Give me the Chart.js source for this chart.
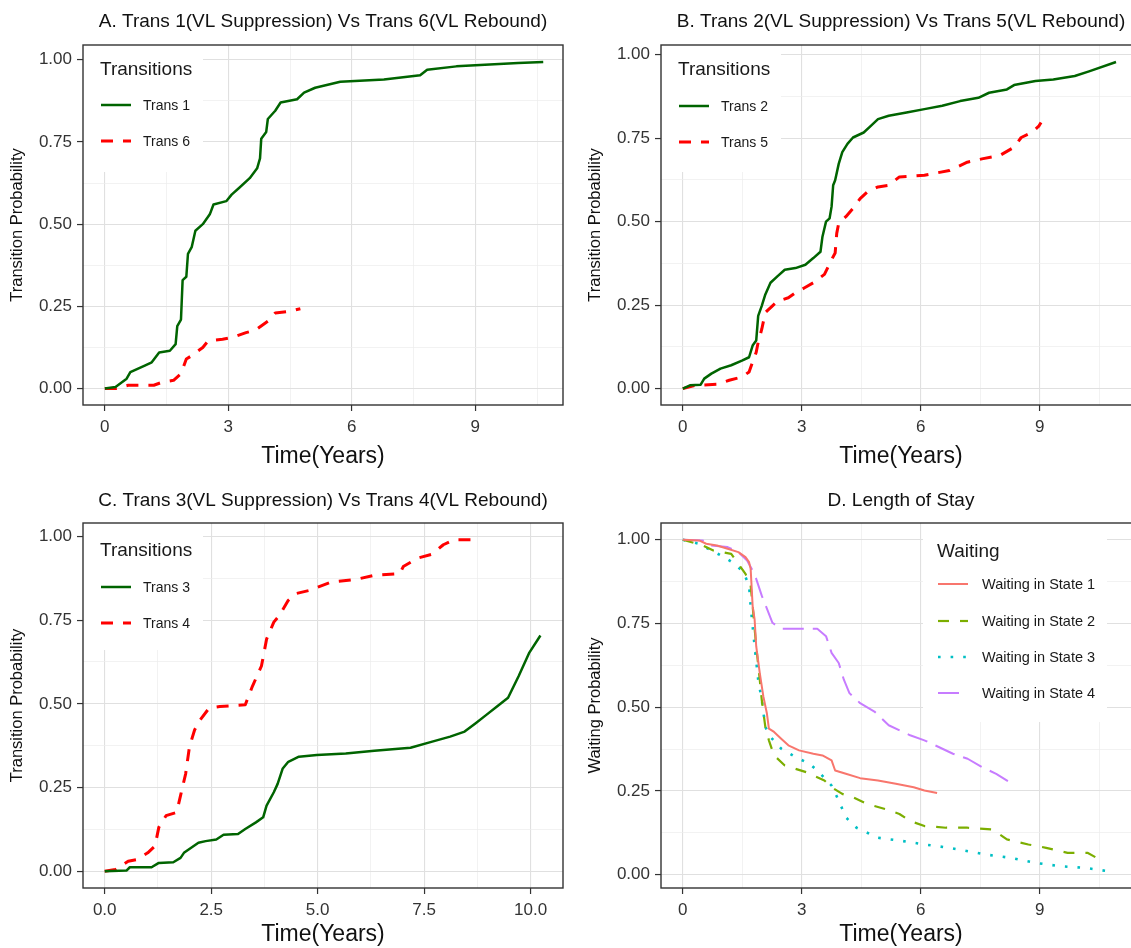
<!DOCTYPE html>
<html>
<head>
<meta charset="utf-8">
<script src="https://cdn.jsdelivr.net/npm/chart.js@4.4.1/dist/chart.umd.min.js"></script>
<style>
html,body{margin:0;padding:0;background:#fff;overflow:hidden;width:1131px;height:948px;position:relative;}
canvas{position:absolute;}
</style>
</head>
<body>
<canvas id="cA" width="578" height="478" style="left:0;top:0"></canvas>
<canvas id="cB" width="578" height="478" style="left:578px;top:0"></canvas>
<canvas id="cC" width="578" height="478" style="left:0;top:478px"></canvas>
<canvas id="cD" width="578" height="478" style="left:578px;top:478px"></canvas>
<script>
// ---------- tick values / labels ----------
const yTicks = [0, 0.25, 0.5, 0.75, 1];
const yTickLabels = ['0.00', '0.25', '0.50', '0.75', '1.00'];
const yMinor = [0.125, 0.375, 0.625, 0.875];
const xTicksYears = [0, 3, 6, 9];
const xTickLabelsYears = ['0', '3', '6', '9'];
const xMinorYears = [1.5, 4.5, 7.5, 10.5];
const xTicksC = [0, 2.5, 5, 7.5, 10];
const xTickLabelsC = ['0.0', '2.5', '5.0', '7.5', '10.0'];
const xMinorC = [1.25, 3.75, 6.25, 8.75];

// ---------- titles / labels ----------
const titleA = 'A. Trans 1(VL Suppression) Vs Trans 6(VL Rebound)';
const titleB = 'B. Trans 2(VL Suppression) Vs Trans 5(VL Rebound)';
const titleC = 'C. Trans 3(VL Suppression) Vs Trans 4(VL Rebound)';
const titleD = 'D. Length of Stay';
const xAxisLabel = 'Time(Years)';
const yAxisLabelTrans = 'Transition Probability';
const yAxisLabelWait = 'Waiting Probability';

// ---------- Panel A ----------
const trans1Time = [0, 0.26, 0.53, 0.62, 0.97, 1.14, 1.32, 1.58, 1.72, 1.76, 1.85, 1.89, 1.98, 2.02, 2.11, 2.2, 2.38, 2.55, 2.64, 2.95, 3.08, 3.26, 3.52, 3.7, 3.77, 3.8, 3.92, 3.96, 4.14, 4.27, 4.67, 4.84, 5.11, 5.72, 6.78, 7.66, 7.83, 8.54, 10.04, 10.65];
const trans1Prob = [0, 0.005, 0.03, 0.05, 0.07, 0.08, 0.11, 0.115, 0.135, 0.19, 0.21, 0.33, 0.34, 0.41, 0.43, 0.48, 0.5, 0.53, 0.56, 0.57, 0.59, 0.61, 0.64, 0.67, 0.7, 0.76, 0.78, 0.82, 0.845, 0.87, 0.88, 0.9, 0.915, 0.933, 0.94, 0.953, 0.97, 0.98, 0.99, 0.993];
const trans6Time = [0, 0.26, 0.57, 1.19, 1.41, 1.67, 1.85, 1.98, 2.11, 2.38, 2.51, 2.86, 3.08, 3.43, 3.66, 3.96, 4.14, 4.49, 4.75];
const trans6Prob = [0, 0, 0.01, 0.01, 0.02, 0.025, 0.045, 0.09, 0.1, 0.125, 0.145, 0.15, 0.155, 0.17, 0.178, 0.205, 0.23, 0.235, 0.243];

// ---------- Panel B ----------
const trans2Time = [0, 0.18, 0.45, 0.54, 0.72, 0.95, 1.22, 1.49, 1.67, 1.76, 1.85, 1.9, 1.99, 2.08, 2.21, 2.39, 2.57, 2.84, 3.09, 3.29, 3.47, 3.52, 3.61, 3.7, 3.75, 3.79, 3.84, 3.93, 4.02, 4.15, 4.29, 4.56, 4.74, 4.92, 5.19, 5.64, 6.09, 6.54, 6.99, 7.45, 7.72, 8.17, 8.35, 8.89, 9.34, 9.88, 10.24, 10.92];
const trans2Prob = [0, 0.01, 0.012, 0.03, 0.045, 0.06, 0.07, 0.084, 0.094, 0.129, 0.144, 0.218, 0.248, 0.282, 0.317, 0.337, 0.356, 0.361, 0.371, 0.391, 0.41, 0.455, 0.5, 0.51, 0.545, 0.609, 0.624, 0.673, 0.708, 0.733, 0.752, 0.767, 0.787, 0.807, 0.817, 0.827, 0.837, 0.847, 0.861, 0.871, 0.886, 0.896, 0.909, 0.921, 0.926, 0.936, 0.95, 0.978];
const trans5Time = [0, 0.32, 0.86, 1.17, 1.49, 1.67, 1.76, 1.85, 1.9, 1.99, 2.08, 2.26, 2.39, 2.66, 2.84, 3.07, 3.29, 3.57, 3.75, 3.84, 3.88, 3.93, 4.11, 4.29, 4.47, 4.65, 4.92, 5.19, 5.46, 6.09, 6.72, 7.17, 7.54, 7.99, 8.35, 8.53, 8.8, 8.98, 9.03];
const trans5Prob = [0, 0.01, 0.013, 0.025, 0.035, 0.05, 0.08, 0.109, 0.139, 0.178, 0.228, 0.248, 0.262, 0.272, 0.287, 0.302, 0.317, 0.342, 0.386, 0.406, 0.465, 0.495, 0.515, 0.54, 0.569, 0.589, 0.604, 0.609, 0.634, 0.639, 0.653, 0.678, 0.688, 0.698, 0.723, 0.752, 0.767, 0.787, 0.797];

// ---------- Panel C ----------
const trans3Time = [0, 0.51, 0.59, 1.1, 1.27, 1.61, 1.78, 1.86, 2.03, 2.2, 2.37, 2.62, 2.79, 3.13, 3.3, 3.55, 3.72, 3.8, 3.97, 4.06, 4.18, 4.31, 4.56, 4.98, 5.66, 6.33, 7.18, 7.69, 8.11, 8.45, 8.71, 8.96, 9.21, 9.47, 9.72, 9.97, 10.23];
const trans3Prob = [0, 0.002, 0.012, 0.012, 0.025, 0.027, 0.04, 0.055, 0.07, 0.085, 0.09, 0.095, 0.109, 0.111, 0.126, 0.146, 0.161, 0.196, 0.236, 0.261, 0.307, 0.327, 0.342, 0.347, 0.352, 0.36, 0.369, 0.387, 0.402, 0.417, 0.442, 0.467, 0.492, 0.518, 0.583, 0.653, 0.704];
const trans4Time = [0, 0.25, 0.55, 0.76, 1.01, 1.18, 1.27, 1.44, 1.69, 1.78, 1.9, 1.99, 2.11, 2.24, 2.45, 2.7, 3.3, 3.47, 3.68, 3.8, 3.97, 4.1, 4.31, 4.48, 4.82, 5.32, 5.92, 6.34, 6.93, 7.01, 7.35, 7.69, 7.95, 8.2, 8.71];
const trans4Prob = [0, 0.005, 0.03, 0.035, 0.055, 0.075, 0.131, 0.166, 0.176, 0.226, 0.291, 0.372, 0.422, 0.452, 0.487, 0.492, 0.497, 0.553, 0.613, 0.693, 0.744, 0.764, 0.809, 0.829, 0.839, 0.864, 0.872, 0.884, 0.889, 0.91, 0.935, 0.947, 0.975, 0.99, 0.99];

// ---------- Panel D ----------
const state1Time = [0, 0.41, 0.59, 0.86, 1.13, 1.4, 1.58, 1.67, 1.71, 1.76, 1.81, 1.85, 1.94, 2.03, 2.12, 2.17, 2.3, 2.48, 2.66, 2.93, 3.29, 3.52, 3.75, 3.84, 4.11, 4.47, 4.92, 5.37, 5.82, 6.09, 6.41];
const state1Prob = [1, 0.998, 0.988, 0.983, 0.973, 0.963, 0.948, 0.933, 0.913, 0.802, 0.762, 0.682, 0.602, 0.532, 0.481, 0.436, 0.426, 0.406, 0.386, 0.371, 0.361, 0.356, 0.341, 0.311, 0.301, 0.288, 0.281, 0.271, 0.261, 0.251, 0.244];
const state2Time = [0, 0.5, 0.77, 1.22, 1.4, 1.58, 1.71, 1.76, 1.85, 1.94, 1.99, 2.08, 2.17, 2.3, 2.57, 2.84, 3.11, 3.29, 3.57, 3.75, 4.02, 4.29, 4.65, 5.1, 5.46, 5.73, 6.09, 6.63, 7.18, 7.81, 8.17, 8.71, 9.16, 9.7, 10.2, 10.51];
const state2Prob = [1, 0.983, 0.968, 0.958, 0.928, 0.898, 0.863, 0.802, 0.682, 0.582, 0.522, 0.441, 0.401, 0.356, 0.326, 0.316, 0.306, 0.296, 0.281, 0.261, 0.241, 0.231, 0.211, 0.196, 0.181, 0.16, 0.145, 0.14, 0.14, 0.135, 0.105, 0.09, 0.08, 0.065, 0.065, 0.045];
const state3Time = [0, 0.41, 0.72, 1.04, 1.31, 1.53, 1.67, 1.71, 1.81, 1.9, 1.99, 2.08, 2.21, 2.48, 2.84, 3.2, 3.47, 3.75, 3.93, 4.11, 4.38, 4.65, 4.92, 5.55, 6.09, 6.72, 7.63, 8.26, 8.89, 9.52, 10.15, 10.74];
const state3Prob = [1, 0.988, 0.968, 0.948, 0.928, 0.903, 0.863, 0.802, 0.682, 0.582, 0.522, 0.441, 0.411, 0.376, 0.351, 0.331, 0.301, 0.266, 0.221, 0.171, 0.14, 0.125, 0.11, 0.1, 0.09, 0.08, 0.06, 0.05, 0.035, 0.025, 0.02, 0.01];
const state4Time = [0, 0.5, 0.68, 1.13, 1.4, 1.62, 1.76, 1.85, 1.99, 2.26, 2.48, 3.39, 3.61, 3.75, 3.93, 4.06, 4.2, 4.47, 4.83, 5.19, 5.73, 6.09, 6.45, 6.81, 7.18, 7.54, 7.9, 8.3];
const state4Prob = [1, 0.998, 0.983, 0.978, 0.963, 0.938, 0.908, 0.883, 0.833, 0.752, 0.734, 0.734, 0.712, 0.662, 0.632, 0.582, 0.542, 0.512, 0.487, 0.446, 0.416, 0.401, 0.381, 0.361, 0.346, 0.321, 0.301, 0.271];

// ---------- rendering helpers ----------
const FONT = "'Liberation Sans', Arial, Helvetica, sans-serif";
const pts = (xs, ys) => xs.map((x, i) => ({ x: x, y: ys[i] }));

const ggPanel = {
  id: 'ggPanel',
  afterDatasetsDraw(chart, args, opts) {
    const ctx = chart.ctx, a = chart.chartArea, L = opts.legend;
    ctx.save();
    ctx.fillStyle = '#ffffff';
    ctx.fillRect(a.left + L.box[0], a.top + L.box[1], L.box[2] - L.box[0], L.box[3] - L.box[1]);
    ctx.fillStyle = '#1a1a1a';
    ctx.textAlign = 'left';
    ctx.textBaseline = 'middle';
    ctx.font = L.titleSize + 'px ' + FONT;
    ctx.fillText(L.title, a.left + L.titleX, a.top + L.titleY);
    chart.data.datasets.forEach((ds, i) => {
      const y = a.top + L.itemY[i];
      ctx.beginPath();
      ctx.strokeStyle = ds.borderColor;
      ctx.lineWidth = ds.borderWidth;
      ctx.lineCap = ds.borderCapStyle || 'butt';
      ctx.setLineDash(ds.borderDash || []);
      ctx.moveTo(a.left + L.keyX[0], y);
      ctx.lineTo(a.left + L.keyX[1], y);
      ctx.stroke();
      ctx.setLineDash([]);
      ctx.fillStyle = '#1a1a1a';
      ctx.font = L.itemSize + 'px ' + FONT;
      ctx.fillText(ds.label, a.left + L.textX, y + 1);
    });
    ctx.strokeStyle = '#333333';
    ctx.lineWidth = 1.4;
    ctx.strokeRect(a.left, a.top, a.right - a.left, a.bottom - a.top);
    ctx.restore();
  }
};

function makeScale(min, max, majors, labels, minors, isX, titleText, axisHeight) {
  const all = majors.concat(minors);
  const isMajor = v => majors.indexOf(v) >= 0;
  return {
    type: 'linear',
    position: isX ? 'bottom' : 'left',
    min: min, max: max,
    afterBuildTicks: s => { s.ticks = all.filter(v => v >= min && v <= max).sort((p, q) => p - q).map(v => ({ value: v })); },
    afterFit: s => { if (isX) s.height = axisHeight; else s.width = 83; },
    border: { display: false },
    grid: {
      color: c => (c.tick && isMajor(c.tick.value)) ? '#e0e0e0' : '#ededed',
      lineWidth: c => (c.tick && isMajor(c.tick.value)) ? 1.1 : 0.7,
      tickColor: c => (c.tick && isMajor(c.tick.value)) ? '#333333' : 'rgba(0,0,0,0)',
      tickLength: 6,
      tickWidth: 1.2,
      drawTicks: true
    },
    ticks: {
      autoSkip: false,
      maxRotation: 0,
      padding: isX ? 6 : 5,
      color: '#333333',
      font: { family: FONT, size: 17 },
      callback: v => { const i = majors.indexOf(v); return i >= 0 ? labels[i] : ''; }
    },
    title: isX ? {
      display: true, text: titleText, color: '#111111',
      font: { family: FONT, size: 23 }, padding: { top: 0, bottom: 8 }
    } : {
      display: true, text: titleText, color: '#111111',
      font: { family: FONT, size: 16.5 }, padding: { top: 8, bottom: 0 }
    }
  };
}

function makeChart(id, cfg) {
  return new Chart(document.getElementById(id), {
    type: 'line',
    data: { datasets: cfg.datasets },
    plugins: [ggPanel],
    options: {
      responsive: false,
      animation: false,
      events: [],
      layout: { padding: { left: 0, right: 15, top: 0, bottom: 0 } },
      elements: { point: { radius: 0 }, line: { tension: 0, borderJoinStyle: 'round' } },
      scales: {
        x: makeScale(cfg.xMin, cfg.xMax, cfg.xMajor, cfg.xLabels, cfg.xMinor, true, xAxisLabel, cfg.axisH),
        y: makeScale(cfg.yMin, cfg.yMax, yTicks, yTickLabels, yMinor, false, cfg.yTitle, 0)
      },
      plugins: {
        legend: { display: false },
        tooltip: { enabled: false },
        title: {
          display: true, text: cfg.title, fullSize: false, color: '#111111',
          font: { family: FONT, size: 19, weight: 'normal' },
          padding: { top: cfg.titleTop, bottom: 45 - cfg.titleTop - 22.8 }
        },
        ggPanel: { legend: cfg.legend }
      }
    }
  });
}

const GREEN = '#006400', RED = '#ff0000';
const transLegend = (title, titleY, y1, y2) => ({
  title: title, titleSize: 19, itemSize: 14,
  box: [0, 0, 120, 127], titleX: 17, titleY: titleY,
  keyX: [18, 48], textX: 60, itemY: [y1, y2]
});

makeChart('cA', {
  title: titleA, titleTop: 10.5, axisH: 73,
  xMin: -0.53, xMax: 11.13, xMajor: xTicksYears, xLabels: xTickLabelsYears, xMinor: xMinorYears,
  yMin: -0.05, yMax: 1.045, yTitle: yAxisLabelTrans,
  legend: transLegend('Transitions', 25, 60, 96),
  datasets: [
    { label: 'Trans 1', data: pts(trans1Time, trans1Prob), borderColor: GREEN, borderWidth: 2.5 },
    { label: 'Trans 6', data: pts(trans6Time, trans6Prob), borderColor: RED, borderWidth: 3, borderDash: [12, 10] }
  ]
});

makeChart('cB', {
  title: titleB, titleTop: 10.5, axisH: 73,
  xMin: -0.55, xMax: 11.55, xMajor: xTicksYears, xLabels: xTickLabelsYears, xMinor: xMinorYears,
  yMin: -0.049, yMax: 1.029, yTitle: yAxisLabelTrans,
  legend: transLegend('Transitions', 25, 61, 97),
  datasets: [
    { label: 'Trans 2', data: pts(trans2Time, trans2Prob), borderColor: GREEN, borderWidth: 2.5 },
    { label: 'Trans 5', data: pts(trans5Time, trans5Prob), borderColor: RED, borderWidth: 3, borderDash: [12, 10] }
  ]
});

makeChart('cC', {
  title: titleC, titleTop: 11, axisH: 68,
  xMin: -0.51, xMax: 10.76, xMajor: xTicksC, xLabels: xTickLabelsC, xMinor: xMinorC,
  yMin: -0.05, yMax: 1.04, yTitle: yAxisLabelTrans,
  legend: transLegend('Transitions', 28, 64, 100),
  datasets: [
    { label: 'Trans 3', data: pts(trans3Time, trans3Prob), borderColor: GREEN, borderWidth: 2.5 },
    { label: 'Trans 4', data: pts(trans4Time, trans4Prob), borderColor: RED, borderWidth: 3, borderDash: [12, 10] }
  ]
});

makeChart('cD', {
  title: titleD, titleTop: 11, axisH: 68,
  xMin: -0.55, xMax: 11.55, xMajor: xTicksYears, xLabels: xTickLabelsYears, xMinor: xMinorYears,
  yMin: -0.04, yMax: 1.05, yTitle: yAxisLabelWait,
  legend: {
    title: 'Waiting', titleSize: 19, itemSize: 14.5,
    box: [262, 0, 446, 199], titleX: 276, titleY: 29,
    keyX: [277, 307], textX: 321, itemY: [61, 98, 134, 170]
  },
  datasets: [
    { label: 'Waiting in State 1', data: pts(state1Time, state1Prob), borderColor: '#F8766D', borderWidth: 2 },
    { label: 'Waiting in State 2', data: pts(state2Time, state2Prob), borderColor: '#7CAE00', borderWidth: 2.2, borderDash: [11, 11] },
    { label: 'Waiting in State 3', data: pts(state3Time, state3Prob), borderColor: '#00BFC4', borderWidth: 2.6, borderDash: [2.6, 10] },
    { label: 'Waiting in State 4', data: pts(state4Time, state4Prob), borderColor: '#C77CFF', borderWidth: 2, borderDash: [21, 9] }
  ]
});
</script>
</body>
</html>
